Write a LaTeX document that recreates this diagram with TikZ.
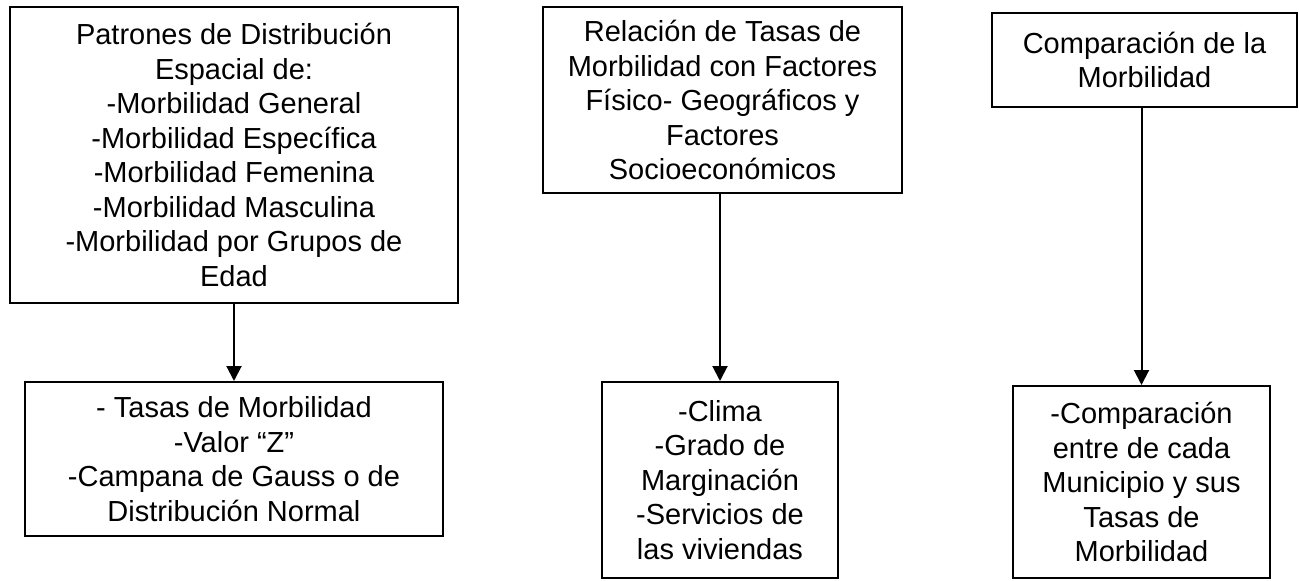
\documentclass[tikz,border=0pt]{standalone}
\usepackage{fontspec}
\setmainfont{Liberation Sans}
\usetikzlibrary{arrows.meta}

\tikzset{
  caja/.style={draw, line width=2pt, align=center, inner sep=2pt,
    font=\fontsize{29}{34.5}\selectfont},
  flecha/.style={line width=2pt, -{Triangle[width=15pt,length=15pt]}}
}

\begin{document}
\begin{tikzpicture}[x=1pt,y=-1pt]
  \useasboundingbox (0,0) rectangle (1299,581);
  % columna izquierda
  \node[caja, minimum width=448pt, minimum height=296pt] (patrones) at (234,155)
    {Patrones de Distribución\\Espacial de:\\-Morbilidad General\\-Morbilidad Específica\\-Morbilidad Femenina\\-Morbilidad Masculina\\-Morbilidad por Grupos de\\Edad};
  \node[caja, minimum width=418pt, minimum height=154pt] (tasas) at (234,459)
    {- Tasas de Morbilidad\\-Valor “Z”\\-Campana de Gauss o de\\Distribución Normal};
  % columna central
  \node[caja, minimum width=359pt, minimum height=186pt] (relacion) at (722.5,100)
    {Relación de Tasas de\\Morbilidad con Factores\\Físico- Geográficos y\\Factores\\Socioeconómicos};
  \node[caja, minimum width=236pt, minimum height=196pt] (factores) at (720,480)
    {-Clima\\-Grado de\\Marginación\\-Servicios de\\las viviendas};
  % columna derecha
  \node[caja, minimum width=305pt, minimum height=94pt] (comparacion) at (1144.5,60)
    {Comparación de la\\Morbilidad};
  \node[caja, minimum width=257pt, minimum height=192pt] (municipio) at (1141.5,482)
    {-Comparación\\entre de cada\\Municipio y sus\\Tasas de\\Morbilidad};

  \draw[flecha] (tasas.north |- patrones.south) -- (tasas.north);
  \draw[flecha] (factores.north |- relacion.south) -- (factores.north);
  \draw[flecha] (municipio.north |- comparacion.south) -- (municipio.north);
\end{tikzpicture}
\end{document}
